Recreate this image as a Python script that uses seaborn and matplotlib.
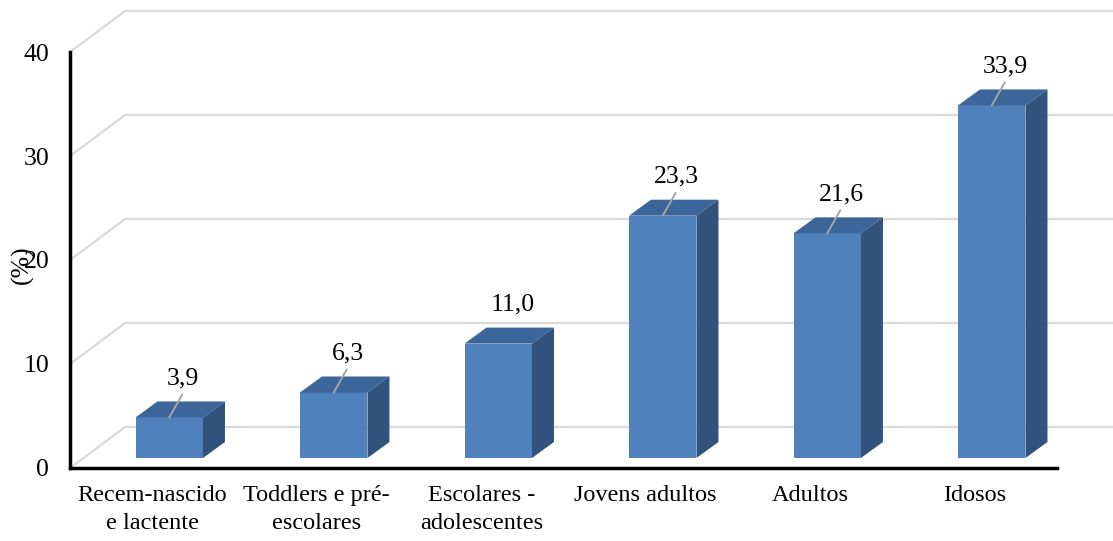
import matplotlib
matplotlib.use("Agg")
import matplotlib.pyplot as plt
import pandas as pd
import seaborn as sns
from matplotlib.patches import Polygon
from matplotlib.transforms import ScaledTranslation

# Data
categories = ["Recem-nascido\ne lactente", "Toddlers e pré-\nescolares",
              "Escolares -\nadolescentes", "Jovens adultos", "Adultos", "Idosos"]
values = [3.9, 6.3, 11.0, 23.3, 21.6, 33.9]
y_ticks = [0, 10, 20, 30, 40]
show_leader = [True, True, False, True, True, True]

# Colours
FRONT = "#4F81BD"
TOP = "#3C659A"
SIDE = "#31537D"
GRID = "#D9D9D9"
LEADER = "#A6A6A6"

sns.set_theme(style="white")
plt.rcParams["font.family"] = ["Liberation Serif", "DejaVu Serif"]

W, H, DPI = 1113, 541, 100
fig = plt.figure(figsize=(W / DPI, H / DPI), dpi=DPI)
ax = fig.add_axes([70 / W, 73 / H, 987 / W, 416 / H])

df = pd.DataFrame({"grupo": categories, "pct": values})
sns.barplot(data=df, x="grupo", y="pct", width=0.41, color=FRONT,
            saturation=1, linewidth=0, ax=ax, zorder=3)
ax.set_xlim(-0.5, 5.5)
ax.set_ylim(0, 40)

# pixel -> data unit conversion for the fixed axes size
ux = 6 / 987
uy = 40 / 416

# Back wall gridlines with the oblique floor/wall connectors
wx, wy = 55 * ux, 41 * uy
for v in y_ticks:
    ax.plot([-0.5, -0.5 + wx], [v, v + wy], color=GRID, lw=1.6,
            clip_on=False, zorder=1, solid_capstyle="butt")
    ax.plot([-0.5 + wx, 6.2], [v + wy, v + wy], color=GRID, lw=1.6,
            clip_on=False, zorder=1, solid_capstyle="butt")

# Bars sit a little behind the front plane
shift = ax.transData + ScaledTranslation(17 / DPI, 10 / DPI, fig.dpi_scale_trans)
dx, dy = 22 * ux, 16 * uy
for p in list(ax.patches):
    p.set_transform(shift)
    p.set_clip_on(False)
    x0, w, h = p.get_x(), p.get_width(), p.get_height()
    top = Polygon([(x0, h), (x0 + w, h), (x0 + w + dx, h + dy), (x0 + dx, h + dy)],
                  closed=True, facecolor=TOP, edgecolor="none", transform=shift,
                  clip_on=False, zorder=3)
    side = Polygon([(x0 + w, 0), (x0 + w + dx, dy), (x0 + w + dx, h + dy), (x0 + w, h)],
                   closed=True, facecolor=SIDE, edgecolor="none", transform=shift,
                   clip_on=False, zorder=3)
    ax.add_patch(top)
    ax.add_patch(side)

# Value labels with leader lines
for i, (v, lead) in enumerate(zip(values, show_leader)):
    ax.annotate(f"{v:.1f}".replace(".", ","), xy=(i, v), xycoords=shift,
                xytext=(14, 39), textcoords="offset pixels",
                ha="center", va="center", fontsize=18.5, color="black", zorder=5)
    if lead:
        ax.annotate("", xy=(i, v), xycoords=shift,
                    xytext=(13, 23), textcoords="offset pixels",
                    arrowprops=dict(arrowstyle="-", color=LEADER, lw=1.4,
                                    shrinkA=0, shrinkB=0), zorder=4)

# Axes styling
for s in ["top", "right"]:
    ax.spines[s].set_visible(False)
for s in ["left", "bottom"]:
    ax.spines[s].set_color("black")
    ax.spines[s].set_linewidth(2.5)
    ax.spines[s].set_zorder(6)

ax.set_yticks(y_ticks)
ax.set_yticklabels([str(t) for t in y_ticks])
ax.tick_params(axis="y", length=0, pad=15, labelsize=18.5, labelcolor="black")
ax.tick_params(axis="x", length=0, pad=12, labelsize=17.5, labelcolor="black")
for lbl in ax.get_xticklabels():
    lbl.set_linespacing(1.45)
ax.set_xlabel("")
ax.set_ylabel("")
ax.grid(False)

fig.text(22 / W, 1 - 265 / H, "(%)", rotation=90, ha="center", va="center",
         fontsize=18.5, color="black")

fig.savefig("out.png", dpi=DPI)
